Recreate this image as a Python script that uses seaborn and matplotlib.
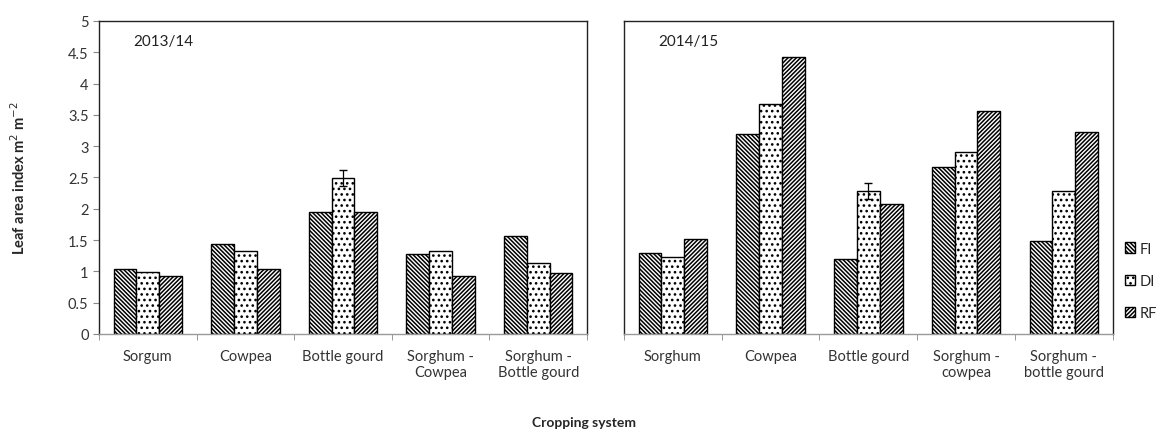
import pandas as pd
import matplotlib.pyplot as plt
import seaborn as sns
from matplotlib.patches import Patch

sns.set_style('ticks')
plt.rcParams['font.family'] = ['Lato', 'DejaVu Sans']
plt.rcParams['hatch.linewidth'] = 1.1

# Data
treatments = ['FI', 'DI', 'RF']
crops_1314 = ['Sorgum', 'Cowpea', 'Bottle gourd', 'Sorghum -\nCowpea', 'Sorghum -\nBottle gourd']
crops_1415 = ['Sorghum', 'Cowpea', 'Bottle gourd', 'Sorghum -\ncowpea', 'Sorghum -\nbottle gourd']
fi_1314 = [1.04, 1.43, 1.95, 1.28, 1.57]
di_1314 = [0.99, 1.32, 2.49, 1.32, 1.14]
rf_1314 = [0.92, 1.03, 1.95, 0.92, 0.98]
fi_1415 = [1.30, 3.20, 1.19, 2.67, 1.49]
di_1415 = [1.23, 3.67, 2.28, 2.91, 2.28]
rf_1415 = [1.51, 4.43, 2.08, 3.56, 3.23]
# error bar only on DI bottle gourd
err_1314 = 0.13
err_1415 = 0.13
hatches = ['\\' * 8, '...', '/' * 8]


def make_df(crops, fi, di, rf):
    rows = []
    for vals, t in zip([fi, di, rf], treatments):
        for c, v in zip(crops, vals):
            rows.append({'Crop': c, 'Treatment': t, 'LAI': v})
    return pd.DataFrame(rows)


df1 = make_df(crops_1314, fi_1314, di_1314, rf_1314)
df2 = make_df(crops_1415, fi_1415, di_1415, rf_1415)

fig = plt.figure(figsize=(11.69, 4.35), dpi=100)
ax1 = fig.add_axes([0.0847, 0.23, 0.4175, 0.7195])
ax2 = fig.add_axes([0.5338, 0.23, 0.418, 0.7195])

for ax, df, crops, label, err in [(ax1, df1, crops_1314, '2013/14', err_1314),
                                  (ax2, df2, crops_1415, '2014/15', err_1415)]:
    sns.barplot(data=df, x='Crop', y='LAI', hue='Treatment', order=crops,
                hue_order=treatments, palette=['white'] * 3, width=0.7,
                edgecolor='black', linewidth=1.0, ax=ax, legend=False)
    for cont, h in zip(ax.containers, hatches):
        for bar in cont:
            bar.set_hatch(h)
    # error bar on DI, bottle gourd
    b = ax.containers[1][2]
    ax.errorbar(b.get_x() + b.get_width() / 2, b.get_height(), yerr=err,
                fmt='none', ecolor='black', elinewidth=0.9, capsize=3)
    ax.set_ylim(0, 5)
    ax.set_xlim(-0.5, 4.5)
    ax.set_xlabel('')
    ax.set_ylabel('')
    ax.set_xticks(range(5))
    ax.set_xticklabels(crops, fontsize=10.5, color='#333333')
    ax.set_xticks([i - 0.5 for i in range(6)], minor=True)
    ax.tick_params(axis='x', which='major', length=0, pad=11)
    ax.tick_params(axis='x', which='minor', length=4, color='#888888')
    ax.text(0.07, 0.935, label, transform=ax.transAxes, fontsize=11,
            color='#222222', va='center')
    for s in ax.spines.values():
        s.set_color('#222222')
        s.set_linewidth(1.0)
    ax.spines['bottom'].set_color('#999999')

ax1.set_yticks([i * 0.5 for i in range(11)])
ax1.set_yticklabels(['0', '0.5', '1', '1.5', '2', '2.5', '3', '3.5', '4', '4.5', '5'],
                    fontsize=10.5, color='#333333')
ax1.tick_params(axis='y', length=4, color='#888888')
ax2.set_yticks([])

ax1.set_ylabel('Leaf area index m$^2$ m$^{-2}$', fontsize=10.5, fontweight='bold')
ax1.yaxis.set_label_coords(-0.145, 0.5)
fig.text(0.5, 0.028, 'Cropping system', ha='center', va='center',
         fontsize=10, fontweight='bold')

handles = [Patch(facecolor='white', edgecolor='black', hatch=h, label=t)
           for h, t in zip(hatches, treatments)]
fig.legend(handles=handles, loc='center left', bbox_to_anchor=(0.962, 0.352),
           frameon=False, fontsize=10.5, handlelength=0.7, handleheight=0.7,
           handletextpad=0.3, labelspacing=1.25, borderaxespad=0, borderpad=0)

fig.savefig('out.png', dpi=100)
